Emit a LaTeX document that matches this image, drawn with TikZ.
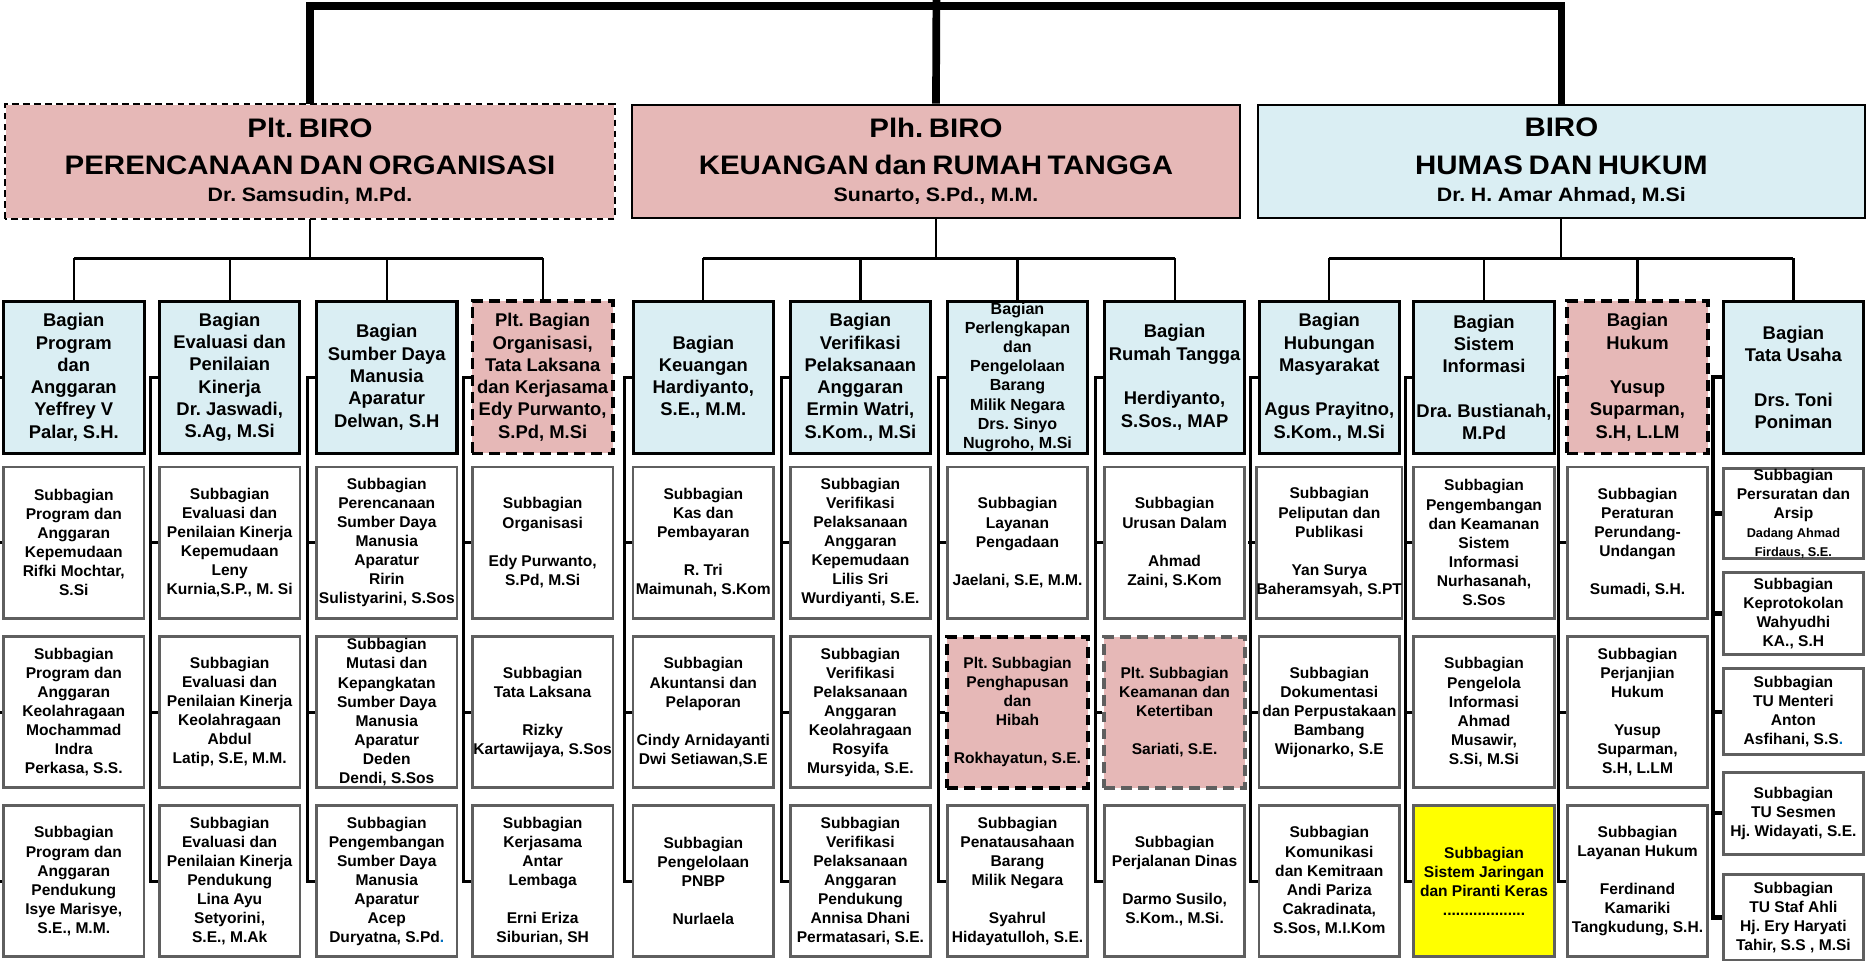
\documentclass[tikz,border=0pt]{standalone}
\usepackage{fontspec}
\setmainfont{Liberation Sans}
\newfontfamily\birofont{Liberation Sans}[FakeStretch=1.1]
\frenchspacing

\definecolor{biropink}{HTML}{E6B8B7}
\definecolor{bagianblue}{HTML}{DAEEF3}
\definecolor{subgray}{HTML}{5F5F5F}
\definecolor{dotblue}{HTML}{0070C0}
\definecolor{kuning}{HTML}{FFFF00}

\newcommand{\smallname}{\fontsize{7.6}{9}\selectfont}
\newcommand{\birotitle}{\fontsize{16}{22.5}\selectfont}
\newcommand{\bironame}{\fontsize{11.6}{16}\selectfont}

\tikzset{
	biro/.style={draw, line width=1.2pt, fill=biropink, minimum width=12.75cm, minimum height=2.375cm, inner sep=0pt, text width=12.6cm, align=center, font=\birofont\bfseries},
	bagian/.style={draw, line width=1.8pt, fill=bagianblue, minimum width=2.95cm, minimum height=3.2cm, inner sep=0pt, align=center, font=\fontsize{11}{13.3}\selectfont\bfseries},
	subbag/.style={draw=subgray, line width=1.6pt, fill=white, minimum width=2.95cm, minimum height=3.175cm, inner sep=0pt, align=center, font=\fontsize{9.3}{11.4}\selectfont\bfseries},
	tusub/.style={subbag, minimum height=1.8cm},
	pltbox/.style={fill=biropink, draw=black, dash pattern=on 6.5pt off 3.6pt, line width=2.3pt},
	topline/.style={line width=4.6pt},
	midline/.style={line width=1.3pt},
	barline/.style={line width=2pt},
	colline/.style={line width=1.9pt}
}

\begin{document}
\begin{tikzpicture}[x=0.025cm, y=-0.025cm]
	\useasboundingbox (0,0) rectangle (1568,807);
	
	% biro
	\node[biro, draw=none] (b1) at (260.5,135.5) {{\birotitle Plt. BIRO\\PERENCANAAN DAN ORGANISASI\par}{\bironame Dr. Samsudin, M.Pd.\par}\vspace*{-5.7pt}};
	\draw[line width=1.2pt, dash pattern=on 4pt off 2.6pt] (b1.south west) rectangle (b1.north east);
	\node[biro] (b2) at (786.5,135.5) {{\birotitle Plh. BIRO\\KEUANGAN dan RUMAH TANGGA\par}{\bironame Sunarto, S.Pd., M.M.\par}\vspace*{-5.7pt}};
	\node[biro, fill=bagianblue] (b3) at (1312,135.5) {{\birotitle BIRO\\HUMAS DAN HUKUM\par}{\bironame Dr. H. Amar Ahmad, M.Si\par}\vspace*{-5.7pt}};
	
	\coordinate (topbar) at (787,5);
	\coordinate (toptop) at (787,-30);
	\draw[topline] (b1.north) |- (topbar) -| (b3.north);
	\draw[topline] (toptop) -- (b2.north);
	
	% bagian
	\node[bagian] (g1) at (62,317) {Bagian\\Program\\dan\\Anggaran\\Yeffrey V\\Palar, S.H.};
	\node[bagian] (g2) at (193,317) {Bagian\\Evaluasi dan\\Penilaian\\Kinerja\\Dr. Jaswadi,\\S.Ag, M.Si};
	\node[bagian] (g3) at (325,317) {Bagian\\Sumber Daya\\Manusia\\Aparatur\\Delwan, S.H};
	\node[bagian, pltbox] (g4) at (456,317) {Plt. Bagian\\Organisasi,\\Tata Laksana\\dan Kerjasama\\Edy Purwanto,\\S.Pd, M.Si};
	\node[bagian] (g5) at (591,317) {Bagian\\Keuangan\\Hardiyanto,\\S.E., M.M.};
	\node[bagian] (g6) at (723,317) {Bagian\\Verifikasi\\Pelaksanaan\\Anggaran\\Ermin Watri,\\S.Kom., M.Si};
	\node[bagian, font=\fontsize{9.6}{11.5}\selectfont\bfseries] (g7) at (855,317) {Bagian\\Perlengkapan\\dan\\Pengelolaan\\Barang\\Milik Negara\\Drs. Sinyo\\Nugroho, M.Si};
	\node[bagian] (g8) at (987,317) {Bagian\\Rumah Tangga\\[13.3pt]Herdiyanto,\\S.Sos., MAP};
	\node[bagian] (g9) at (1117,317) {Bagian\\Hubungan\\Masyarakat\\[13.3pt]Agus Prayitno,\\S.Kom., M.Si};
	\node[bagian] (g10) at (1247,317) {Bagian\\Sistem\\Informasi\\[13.3pt]Dra. Bustianah,\\M.Pd};
	\node[bagian, pltbox] (g11) at (1376,317) {Bagian\\Hukum\\[13.3pt]Yusup\\Suparman,\\S.H, L.LM};
	\node[bagian] (g12) at (1507,317) {Bagian\\Tata Usaha\\[13.3pt]Drs. Toni\\Poniman};
	
	\coordinate (k1) at (260.5,217);
	\coordinate (k2) at (786.5,217);
	\coordinate (k3) at (1312,217);
	\draw[midline] (b1.south) -- (k1) (b2.south) -- (k2) (b3.south) -- (k3);
	\draw[barline] (g1.north |- k1) -- (g4.north |- k1);
	\draw[barline] (g5.north |- k2) -- (g8.north |- k2);
	\draw[barline] (g9.north |- k3) -- (g12.north |- k3);
	\draw[midline] (g1.north) -- (g1.north |- k1) (g2.north) -- (g2.north |- k1) (g3.north) -- (g3.north |- k1) (g4.north) -- (g4.north |- k1);
	\draw[midline] (g5.north) -- (g5.north |- k2) (g6.north) -- (g6.north |- k2) (g7.north) -- (g7.north |- k2) (g8.north) -- (g8.north |- k2);
	\draw[midline] (g9.north) -- (g9.north |- k3) (g10.north) -- (g10.north |- k3) (g11.north) -- (g11.north |- k3) (g12.north) -- (g12.north |- k3);
	
	% subbagian
	\node[subbag] (s11) at (62,456) {Subbagian\\Program dan\\Anggaran\\Kepemudaan\\Rifki Mochtar,\\S.Si};
	\node[subbag] (s12) at (62,598.5) {Subbagian\\Program dan\\Anggaran\\Keolahragaan\\Mochammad\\Indra\\Perkasa, S.S.};
	\node[subbag] (s13) at (62,740.5) {Subbagian\\Program dan\\Anggaran\\Pendukung\\Isye Marisye,\\S.E., M.M.};
	
	\node[subbag] (s21) at (193,456) {Subbagian\\Evaluasi dan\\Penilaian Kinerja\\Kepemudaan\\Leny\\Kurnia,S.P., M. Si};
	\node[subbag] (s22) at (193,598.5) {Subbagian\\Evaluasi dan\\Penilaian Kinerja\\Keolahragaan\\Abdul\\Latip, S.E, M.M.};
	\node[subbag] (s23) at (193,740.5) {Subbagian\\Evaluasi dan\\Penilaian Kinerja\\Pendukung\\Lina Ayu\\Setyorini,\\S.E., M.Ak};
	
	\node[subbag] (s31) at (325,456) {Subbagian\\Perencanaan\\Sumber Daya\\Manusia\\Aparatur\\Ririn\\Sulistyarini, S.Sos};
	\node[subbag] (s32) at (325,598.5) {Subbagian\\Mutasi dan\\Kepangkatan\\Sumber Daya\\Manusia\\Aparatur\\Deden\\Dendi, S.Sos};
	\node[subbag] (s33) at (325,740.5) {Subbagian\\Pengembangan\\Sumber Daya\\Manusia\\Aparatur\\Acep\\Duryatna, S.Pd\textcolor{dotblue}{.}};
	
	\node[subbag] (s41) at (456,456) {Subbagian\\Organisasi\\[11.4pt]Edy Purwanto,\\S.Pd, M.Si};
	\node[subbag] (s42) at (456,598.5) {Subbagian\\Tata Laksana\\[11.4pt]Rizky\\Kartawijaya, S.Sos};
	\node[subbag] (s43) at (456,740.5) {Subbagian\\Kerjasama\\Antar\\Lembaga\\[11.4pt]Erni Eriza\\Siburian, SH};
	
	\node[subbag] (s51) at (591,456) {Subbagian\\Kas dan\\Pembayaran\\[11.4pt]R. Tri\\Maimunah, S.Kom};
	\node[subbag] (s52) at (591,598.5) {Subbagian\\Akuntansi dan\\Pelaporan\\[11.4pt]Cindy Arnidayanti\\Dwi Setiawan,S.E};
	\node[subbag] (s53) at (591,740.5) {Subbagian\\Pengelolaan\\PNBP\\[11.4pt]Nurlaela};
	
	\node[subbag] (s61) at (723,456) {Subbagian\\Verifikasi\\Pelaksanaan\\Anggaran\\Kepemudaan\\Lilis Sri\\Wurdiyanti, S.E.};
	\node[subbag] (s62) at (723,598.5) {Subbagian\\Verifikasi\\Pelaksanaan\\Anggaran\\Keolahragaan\\Rosyifa\\Mursyida, S.E.};
	\node[subbag] (s63) at (723,740.5) {Subbagian\\Verifikasi\\Pelaksanaan\\Anggaran\\Pendukung\\Annisa Dhani\\Permatasari, S.E.};
	
	\node[subbag] (s71) at (855,456) {Subbagian\\Layanan\\Pengadaan\\[11.4pt]Jaelani, S.E, M.M.};
	\node[subbag, pltbox] (s72) at (855,598.5) {Plt. Subbagian\\Penghapusan\\dan\\Hibah\\[11.4pt]Rokhayatun, S.E.};
	\node[subbag] (s73) at (855,740.5) {Subbagian\\Penatausahaan\\Barang\\Milik Negara\\[11.4pt]Syahrul\\Hidayatulloh, S.E.};
	
	\node[subbag] (s81) at (987,456) {Subbagian\\Urusan Dalam\\[11.4pt]Ahmad\\Zaini, S.Kom};
	\node[subbag, pltbox, draw=subgray] (s82) at (987,598.5) {Plt. Subbagian\\Keamanan dan\\Ketertiban\\[11.4pt]Sariati, S.E.};
	\node[subbag] (s83) at (987,740.5) {Subbagian\\Perjalanan Dinas\\[11.4pt]Darmo Susilo,\\S.Kom., M.Si.};
	
	\node[subbag] (s91) at (1117,456) {Subbagian\\Peliputan dan\\Publikasi\\[11.4pt]Yan Surya\\Baheramsyah, S.PT};
	\node[subbag] (s92) at (1117,598.5) {Subbagian\\Dokumentasi\\dan Perpustakaan\\Bambang\\Wijonarko, S.E};
	\node[subbag] (s93) at (1117,740.5) {Subbagian\\Komunikasi\\dan Kemitraan\\Andi Pariza\\Cakradinata,\\S.Sos, M.I.Kom};
	
	\node[subbag] (s101) at (1247,456) {Subbagian\\Pengembangan\\dan Keamanan\\Sistem\\Informasi\\Nurhasanah,\\S.Sos};
	\node[subbag] (s102) at (1247,598.5) {Subbagian\\Pengelola\\Informasi\\Ahmad\\Musawir,\\S.Si, M.Si};
	\node[subbag, fill=kuning] (s103) at (1247,740.5) {Subbagian\\Sistem Jaringan\\dan Piranti Keras\\...................};
	
	\node[subbag] (s111) at (1376,456) {Subbagian\\Peraturan\\Perundang-\\Undangan\\[11.4pt]Sumadi, S.H.};
	\node[subbag] (s112) at (1376,598.5) {Subbagian\\Perjanjian\\Hukum\\[11.4pt]Yusup\\Suparman,\\S.H, L.LM};
	\node[subbag] (s113) at (1376,740.5) {Subbagian\\Layanan Hukum\\[11.4pt]Ferdinand\\Kamariki\\Tangkudung, S.H.};
	
	\node[tusub, minimum height=1.825cm] (t1) at (1507,431.5) {Subbagian\\Persuratan dan\\Arsip\\\smallname Dadang Ahmad\\\smallname Firdaus, S.E.};
	\node[tusub, minimum height=1.725cm] (t2) at (1507,515.5) {Subbagian\\Keprotokolan\\Wahyudhi\\KA., S.H};
	\node[tusub] (t3) at (1507,598) {Subbagian\\TU Menteri\\Anton\\Asfihani, S.S\textcolor{dotblue}{.}};
	\node[tusub, minimum height=1.725cm] (t4) at (1507,683.5) {Subbagian\\TU Sesmen\\Hj. Widayati, S.E.};
	\node[tusub] (t5) at (1507,771) {Subbagian\\TU Staf Ahli\\Hj. Ery Haryati\\Tahir, S.S , M.Si};
	
	% garis kolom
	\draw[colline] (g1.west) -- ++(-6,0) |- (s13.west) (s11.west) -- ++(-6,0) (s12.west) -- ++(-6,0);
	\draw[colline] (g2.west) -- ++(-6,0) |- (s23.west) (s21.west) -- ++(-6,0) (s22.west) -- ++(-6,0);
	\draw[colline] (g3.west) -- ++(-6,0) |- (s33.west) (s31.west) -- ++(-6,0) (s32.west) -- ++(-6,0);
	\draw[colline] (g4.west) -- ++(-6,0) |- (s43.west) (s41.west) -- ++(-6,0) (s42.west) -- ++(-6,0);
	\draw[colline] (g5.west) -- ++(-6,0) |- (s53.west) (s51.west) -- ++(-6,0) (s52.west) -- ++(-6,0);
	\draw[colline] (g6.west) -- ++(-6,0) |- (s63.west) (s61.west) -- ++(-6,0) (s62.west) -- ++(-6,0);
	\draw[colline] (g7.west) -- ++(-6,0) |- (s73.west) (s71.west) -- ++(-6,0) (s72.west) -- ++(-6,0);
	\draw[colline] (g8.west) -- ++(-6,0) |- (s83.west) (s81.west) -- ++(-6,0) (s82.west) -- ++(-6,0);
	\draw[colline] (g9.west) -- ++(-6,0) |- (s93.west) (s91.west) -- ++(-6,0) (s92.west) -- ++(-6,0);
	\draw[colline] (g10.west) -- ++(-6,0) |- (s103.west) (s101.west) -- ++(-6,0) (s102.west) -- ++(-6,0);
	\draw[colline] (g11.west) -- ++(-6,0) |- (s113.west) (s111.west) -- ++(-6,0) (s112.west) -- ++(-6,0);
	\draw[colline, line width=2.5pt] (g12.west) -- ++(-7,0) |- (t5.west) (t1.west) -- ++(-7,0) (t2.west) -- ++(-7,0) (t3.west) -- ++(-7,0) (t4.west) -- ++(-7,0);
\end{tikzpicture}
\end{document}
